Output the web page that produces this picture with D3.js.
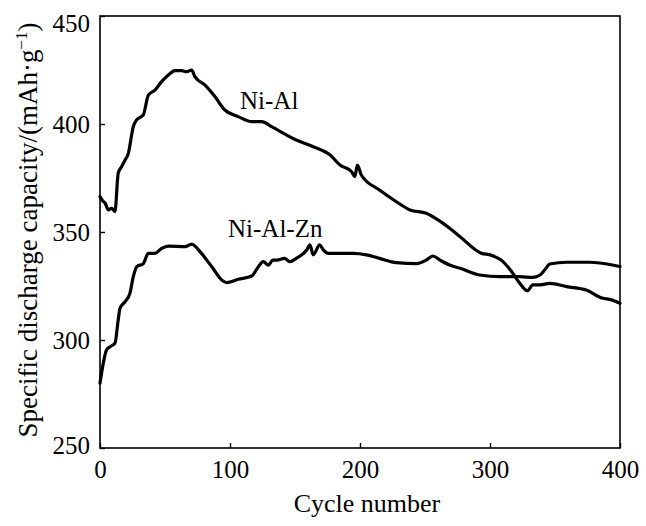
<!DOCTYPE html>
<html><head><meta charset="utf-8">
<script src="https://cdn.jsdelivr.net/npm/d3@7"></script>
<style>
html,body{margin:0;padding:0;background:#fff;}
</style></head>
<body><svg id="c" width="646" height="526"></svg>
<script>
const niAlCycles = [0,2,4,6.5,9,11.5,14,16.7,19,21.8,25.6,28.2,33.3,37.2,42.3,47.4,52.6,57.7,62.8,66.7,70.5,73,80.8,88.5,96,106.4,116.7,124.4,132,151,164,177,184.6,193.6,196,198,201,215,228,238.5,251,261.5,269,277,293.6,300,310,316.7,323,328.7,333,338.5,346,359,374,387,392,400];
const niAlValues = [366.4,364.5,363.3,360.2,361,359.4,377.2,380.3,383,386.4,398.8,401.9,404.2,413.4,415.7,419.6,422.7,424.7,424.7,424.2,425,421.9,418,412.6,406.5,403.4,401.1,401.1,398.8,392.6,389.5,385.6,381,377.9,375.6,381,376.4,369.4,364,360.2,358.7,355,351.7,347.8,340.1,339.4,336.3,331.6,326.2,322.8,325.5,325.5,326.2,324.7,323.1,319.3,318.8,317];
const niAlZnCycles = [0,2.5,5,7.7,11.5,14,15.4,19.2,23,25.6,28.2,33.3,37.2,42.3,47.4,52.6,65.4,70.5,78,86,93.6,97.4,106.4,116.7,121.8,125.6,129.5,133,136,142,146,151,159,161.5,164,169,171.8,175.6,195,205,215,228,243.6,251,256,261.5,269,277,292,308,323,333,338.5,342,346,359,377,390,400];
const niAlZnValues = [280,289.2,295.4,296.9,298.5,309.3,314.7,317.7,321.6,329.3,333.9,335.4,340.1,340.1,342.4,343.5,343.2,344.4,340.1,333.9,327.8,326.6,328.1,329.6,333.9,336.3,334.7,337,337,337.8,336.3,337.8,341.7,344,339.4,344,341.7,340.1,340.1,339.4,337.8,335.8,335.4,337,338.9,337,334.7,333.2,330.1,329.3,329.3,329,330.1,332.4,335.2,336,336,335.2,334];
const seriesNames = ["Ni-Al","Ni-Al-Zn"];
const labelCycles = [107.7,98.5];
const labelValues = [407,347.7];
const xTicks = [0,100,200,300,400];
const yTicks = [250,300,350,400,450];
const xTitle = "Cycle number";

const FONT = "Liberation Serif";
const L=100,R=620,T=16,B=448;
const svg=d3.select("#c");
const x=d3.scaleLinear().domain([0,400]).range([L,R]);
const y=d3.scaleLinear().domain([250,450]).range([B,T]);

svg.append("rect").attr("x",L).attr("y",T).attr("width",R-L).attr("height",B-T)
  .attr("fill","none").attr("stroke","#000").attr("stroke-width",1.6);

const xa=svg.append("g").attr("transform",`translate(0,${B})`)
  .call(d3.axisBottom(x).tickValues(xTicks).tickSizeInner(-5).tickSizeOuter(0).tickPadding(12));
const ya=svg.append("g").attr("transform",`translate(${L},0)`)
  .call(d3.axisLeft(y).tickValues(yTicks).tickSizeInner(-5).tickSizeOuter(0).tickPadding(10));
[xa,ya].forEach(g=>{g.attr("font-family",FONT).attr("font-size",25);
  g.select(".domain").remove();g.selectAll("line").attr("stroke","#000").attr("stroke-width",1.4);
  g.selectAll("text").attr("font-family",FONT).attr("font-size",25).attr("fill","#000");});
ya.selectAll(".tick").filter(d=>d===450).select("text").attr("dy","0.62em");
ya.selectAll(".tick").filter(d=>d===250).select("text").attr("dy","0.2em");

const line=d3.line().x(d=>x(d[0])).y(d=>y(d[1])).curve(d3.curveMonotoneX);
const s1=niAlCycles.map((c,i)=>[c,niAlValues[i]]);
const s2=niAlZnCycles.map((c,i)=>[c,niAlZnValues[i]]);
[s1,s2].forEach(s=>svg.append("path").datum(s).attr("d",line)
  .attr("fill","none").attr("stroke","#000").attr("stroke-width",3.2).attr("stroke-linejoin","round").attr("stroke-linecap","round"));

seriesNames.forEach((n,i)=>svg.append("text").attr("x",x(labelCycles[i])).attr("y",y(labelValues[i]))
  .attr("font-family",FONT).attr("font-size",25).text(n));

svg.append("text").attr("x",367).attr("y",512).attr("text-anchor","middle")
  .attr("font-family",FONT).attr("font-size",26).text(xTitle);
const yt=svg.append("text").attr("transform","translate(37,230) rotate(-90)").attr("text-anchor","middle")
  .attr("font-family",FONT).attr("font-size",27);
yt.append("tspan").text("Specific discharge capacity/(mAh\u00B7g");
yt.append("tspan").attr("dy","-10").attr("font-size",17).text("\u22121");
yt.append("tspan").attr("dy","10").text(")");
</script></body></html>
